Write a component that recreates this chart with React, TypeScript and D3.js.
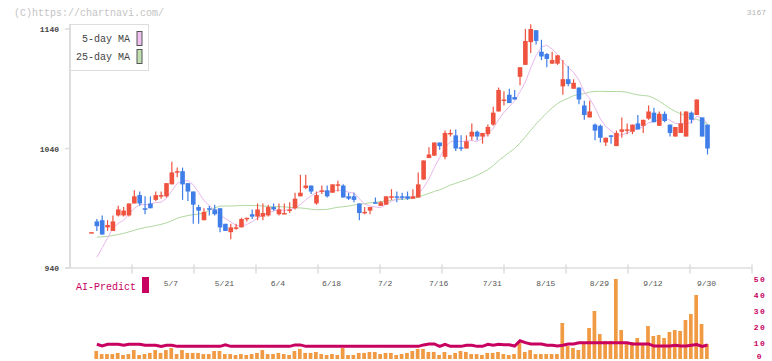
import React from 'react';
import * as d3 from 'd3';

// ---- price data (one entry per trading day, left to right) ----
const opens = [
  970, 979, 980, 974, 971, 984, 984, 984, 994, 1001,
  990, 994, 997, 1001, 1000, 1010, 1021, 1021, 1011, 1004,
  991, 980, 990, 989, 990, 977, 970, 973, 974, 981,
  985, 983, 983, 984, 991, 985, 986, 988, 990, 1000,
  1007, 1009, 994, 1005, 1005, 1003, 1010, 1009, 1000, 1000,
  994, 986, 988, 995, 992, 993, 1000, 1000, 1000, 1000,
  998, 999, 1014, 1032, 1034, 1045, 1033, 1053, 1051, 1041,
  1040, 1050, 1054, 1050, 1052, 1060, 1071, 1081, 1085, 1083,
  1100, 1110, 1129, 1139, 1121, 1119, 1111, 1111, 1092, 1098,
  1090, 1091, 1076, 1066, 1060, 1059, 1045, 1051, 1042, 1054,
  1055, 1054, 1061, 1059, 1065, 1070, 1059, 1069, 1060, 1050,
  1053, 1050, 1070, 1068, 1066, 1060,
];
const highs = [
  970, 981, 984, 980, 984, 992, 991, 994, 1005, 1004,
  1000, 1000, 1004, 1004, 1011, 1029, 1024, 1024, 1011, 1004,
  993, 990, 992, 993, 990, 977, 977, 977, 982, 982,
  989, 994, 994, 993, 994, 994, 994, 995, 1003, 1018,
  1018, 1009, 1004, 1009, 1009, 1010, 1013, 1010, 1003, 1003,
  994, 991, 991, 999, 996, 1000, 1006, 1004, 1003, 1004,
  1006, 1020, 1030, 1041, 1045, 1045, 1055, 1056, 1056, 1051,
  1051, 1061, 1055, 1053, 1060, 1075, 1091, 1088, 1090, 1089,
  1108, 1140, 1144, 1139, 1131, 1120, 1121, 1118, 1114, 1109,
  1098, 1091, 1080, 1080, 1061, 1060, 1049, 1051, 1055, 1066,
  1061, 1060, 1068, 1064, 1076, 1074, 1071, 1071, 1060, 1058,
  1071, 1071, 1071, 1081, 1066, 1060,
];
const lows = [
  970, 971, 968, 971, 971, 983, 983, 983, 994, 992,
  985, 990, 996, 998, 999, 1010, 1016, 997, 996, 977,
  977, 980, 984, 984, 970, 971, 964, 972, 974, 979,
  981, 980, 980, 983, 988, 984, 985, 986, 989, 1000,
  1006, 1002, 993, 1002, 999, 1003, 1004, 999, 997, 995,
  980, 985, 985, 994, 992, 993, 997, 995, 997, 997,
  998, 999, 1014, 1032, 1034, 1039, 1031, 1050, 1038, 1038,
  1040, 1047, 1047, 1044, 1050, 1059, 1071, 1076, 1078, 1081,
  1093, 1110, 1120, 1127, 1114, 1108, 1111, 1110, 1085, 1092,
  1090, 1077, 1064, 1066, 1047, 1045, 1042, 1044, 1042, 1049,
  1052, 1052, 1056, 1053, 1064, 1062, 1059, 1062, 1050, 1050,
  1053, 1050, 1061, 1068, 1050, 1035,
];
const closes = [
  970, 975, 968, 976, 979, 989, 988, 994, 1000, 994,
  989, 990, 1001, 1001, 1011, 1020, 1021, 1010, 1004, 993,
  988, 987, 989, 985, 974, 971, 974, 974, 981, 982,
  983, 989, 986, 991, 989, 989, 986, 989, 998, 1003,
  1009, 1004, 1001, 1005, 1000, 1010, 1010, 999, 998, 997,
  986, 987, 991, 994, 995, 1000, 1000, 999, 999, 998,
  1000, 1010, 1030, 1035, 1045, 1042, 1053, 1053, 1040, 1040,
  1046, 1054, 1050, 1053, 1058, 1070, 1089, 1081, 1078, 1081,
  1108, 1130, 1140, 1130, 1117, 1115, 1114, 1118, 1098, 1094,
  1095, 1081, 1068, 1071, 1055, 1049, 1049, 1050, 1053, 1056,
  1056, 1060, 1056, 1064, 1071, 1062, 1069, 1063, 1053, 1058,
  1061, 1071, 1064, 1081, 1050, 1040,
];
// closes before the visible window, estimated from where the MA lines begin
const priorCloses = [
  962, 966, 960, 968, 965, 963, 967, 961, 964, 972,
  978, 976, 980, 974, 971, 977, 979, 975, 973, 970,
  928, 936, 936,
];

// ---- lower panel ----
const volumes: (number | null)[] = [
  null, 5.0, 3.1, 3.1, 3.1, 3.8, 2.5, 3.1, 5.6, 2.5,
  3.1, 3.8, 5.6, 3.8, 5.6, 6.9, 3.1, 5.6, 3.8, 3.8,
  3.8, 3.1, 3.1, 5.0, 5.0, 3.1, 3.1, 2.5, 3.1, 2.5,
  3.1, 3.8, 5.6, 3.1, 3.1, 3.8, 3.1, 2.5, 5.0, 6.3,
  3.8, 3.8, 4.4, 3.1, 2.5, 3.1, 2.5, 6.9, 2.5, 2.5,
  3.8, 3.8, 4.4, 4.4, 3.1, 3.8, 3.8, 2.5, 3.1, 3.8,
  5.0, 6.3, 6.3, 4.4, 4.4, 2.5, 4.4, 2.5, 3.8, 5.0,
  4.4, 3.1, 3.1, 2.5, 3.8, 3.8, 4.4, 3.1, 2.5, 3.1,
  10.0, 4.4, 5.6, 3.1, 3.1, 3.1, 3.1, 3.1, 22.5, 8.1,
  6.9, 5.6, 9.4, 19.4, 30.0, 15.6, 11.3, 11.3, 50.0, 18.1,
  9.4, 10.6, 13.1, 9.4, 20.6, 14.4, 15.0, 13.1, 16.9, 18.1,
  17.5, 24.4, 28.1, 40.0, 21.9, 9.4,
];
const aiPredict: (number | null)[] = [
  null, 9.2, 8.1, 9.2, 9.2, 9.2, 8.6, 9.2, 9.2, 9.2,
  8.6, 8.6, 8.6, 7.9, 8.6, 8.6, 7.9, 7.9, 7.9, 7.9,
  7.9, 7.9, 7.9, 7.9, 7.9, 8.8, 7.9, 7.9, 7.9, 7.9,
  7.9, 7.9, 7.9, 7.9, 7.9, 7.9, 7.9, 7.9, 8.8, 8.8,
  7.9, 7.9, 7.9, 7.9, 7.9, 7.9, 7.9, 7.9, 7.9, 7.9,
  7.9, 7.9, 7.9, 7.9, 7.9, 7.9, 7.9, 7.9, 7.9, 7.9,
  7.9, 7.9, 8.8, 9.4, 9.4, 7.9, 9.2, 7.9, 7.9, 7.9,
  8.6, 8.6, 7.9, 7.9, 9.2, 8.6, 9.2, 8.9, 8.9, 8.1,
  11.4, 10.2, 9.4, 9.4, 9.4, 8.6, 8.6, 8.1, 8.6, 9.4,
  9.4, 10.2, 10.2, 10.2, 10.2, 10.2, 10.2, 10.2, 10.2, 10.2,
  10.2, 9.4, 9.4, 9.4, 9.4, 8.1, 8.1, 8.1, 8.1, 8.6,
  8.1, 8.1, 8.6, 9.0, 7.9, 8.7,
];

// ---- axes ----
const priceTicks = [940, 1040, 1140];
const volumeTicks = [0, 10, 20, 30, 40, 50];
const dateLabels = ['5/7', '5/21', '6/4', '6/18', '7/2', '7/16', '7/31', '8/15', '8/29', '9/12', '9/30'];
const dateLabelIndex = [15, 25, 35, 45, 55, 65, 75, 85, 95, 105, 115];
const gridDivisions = 11;

const UP = '#ef5340';
const DOWN = '#3f7de8';
const MA5 = '#eab8ee';
const MA25 = '#b0d8a0';
const VOL = '#f19a44';
const AI = '#c8005f';
const AXIS = '#dddddd';
const FONT = '"Liberation Mono", "DejaVu Sans Mono", monospace';

export default function App() {
  const x = d3.scaleLinear().domain([0, closes.length - 1]).range([91.5, 707.5]);
  const y = d3.scaleLinear().domain([940, 1140]).range([268, 29]);
  const yv = d3.scaleLinear().domain([0, 50]).range([359, 279]);
  const gx = d3.scaleLinear().domain([0, gridDivisions]).range([70, 752]);

  const allCloses = priorCloses.concat(closes);
  const P = priorCloses.length;
  const movingAvg = (n: number) =>
    closes.map((_, i) => (i === 0 ? null : (d3.mean(allCloses.slice(P + i - n + 1, P + i + 1)) as number)));
  const ma5 = movingAvg(5);
  const ma25 = movingAvg(25);

  const line = d3
    .line<number | null>()
    .defined((d) => d != null)
    .x((_, i) => x(i))
    .y((d) => y(d as number));
  const aiLine = d3
    .line<number | null>()
    .defined((d) => d != null)
    .x((_, i) => x(i))
    .y((d) => yv(d as number));

  const bodyW = 4.6;
  const volW = 3.7;

  return (
    <svg
      width={772}
      height={361}
      style={{ position: 'absolute', left: 0, top: 0, background: '#fff' }}
      fontFamily={FONT}
    >
      <text x={14} y={16} fontSize={10} fill="#c4c4c4">(C)https://chartnavi.com/</text>
      <text x={766} y={15} fontSize={8} fill="#b4b4b4" textAnchor="end">3167</text>

      {/* axes */}
      <line x1={70} x2={70} y1={24} y2={268} stroke={AXIS} strokeWidth={2} />
      <line x1={65} x2={752} y1={268} y2={268} stroke={AXIS} strokeWidth={1.5} />
      {d3.range(1, gridDivisions + 1).map((k) => (
        <line key={'gt' + k} x1={gx(k)} x2={gx(k)} y1={264.5} y2={273.5} stroke={AXIS} strokeWidth={1.5} />
      ))}
      {priceTicks.map((t) => (
        <g key={'pt' + t}>
          <line x1={65} x2={70} y1={y(t)} y2={y(t)} stroke={AXIS} strokeWidth={1.5} />
          <text x={59} y={y(t) + 3} fontSize={8} fill="#444" textAnchor="end" fontWeight="bold">{t}</text>
        </g>
      ))}
      {dateLabels.map((lab, i) => (
        <text key={'dl' + lab} x={x(dateLabelIndex[i]) - 1} y={286} fontSize={8} fill="#555" textAnchor="middle">{lab}</text>
      ))}

      {/* moving averages */}
      <path d={line(ma25) || ''} fill="none" stroke={MA25} strokeWidth={1} />
      <path d={line(ma5) || ''} fill="none" stroke={MA5} strokeWidth={1} />

      {/* candles */}
      {closes.map((c, i) => {
        const o = opens[i];
        const up = c >= o;
        const col = up ? UP : DOWN;
        const top = y(Math.max(o, c));
        const bot = y(Math.min(o, c));
        const h = Math.max(bot - top, 1.5);
        return (
          <g key={'c' + i}>
            <line x1={x(i)} x2={x(i)} y1={y(highs[i])} y2={y(lows[i])} stroke={col} strokeWidth={1.2} />
            <rect x={x(i) - bodyW / 2} y={top} width={bodyW} height={h} fill={col} />
          </g>
        );
      })}

      {/* legend */}
      <rect x={70.5} y={24.5} width={78} height={46} fill="#fff" stroke={AXIS} strokeWidth={1} />
      <text x={130} y={42} fontSize={10} fill="#444" textAnchor="end">5-day MA</text>
      <text x={130} y={60} fontSize={10} fill="#444" textAnchor="end">25-day MA</text>
      <rect x={137} y={31.5} width={5} height={14} fill="#f0c0f0" stroke="#555" strokeWidth={1} />
      <rect x={137} y={49.5} width={5} height={14} fill="#c0e0b0" stroke="#555" strokeWidth={1} />

      {/* lower panel */}
      <text x={76} y={290} fontSize={10} fill={AI}>AI-Predict</text>
      <rect x={142} y={277} width={7} height={16} fill={AI} />
      {volumes.map((v, i) =>
        v == null ? null : (
          <rect key={'v' + i} x={x(i) - volW / 2 - 0.6} y={yv(v)} width={volW} height={yv(0) - yv(v)} fill={VOL} />
        )
      )}
      <path d={aiLine(aiPredict) || ''} fill="none" stroke={AI} strokeWidth={3} />
      {volumeTicks.map((t) => (
        <text key={'vt' + t} x={760} y={Math.min(yv(t) + 2.5, 359)} fontSize={8} fill={AI} textAnchor="middle" letterSpacing={1.5} fontWeight="bold">{t}</text>
      ))}
    </svg>
  );
}
